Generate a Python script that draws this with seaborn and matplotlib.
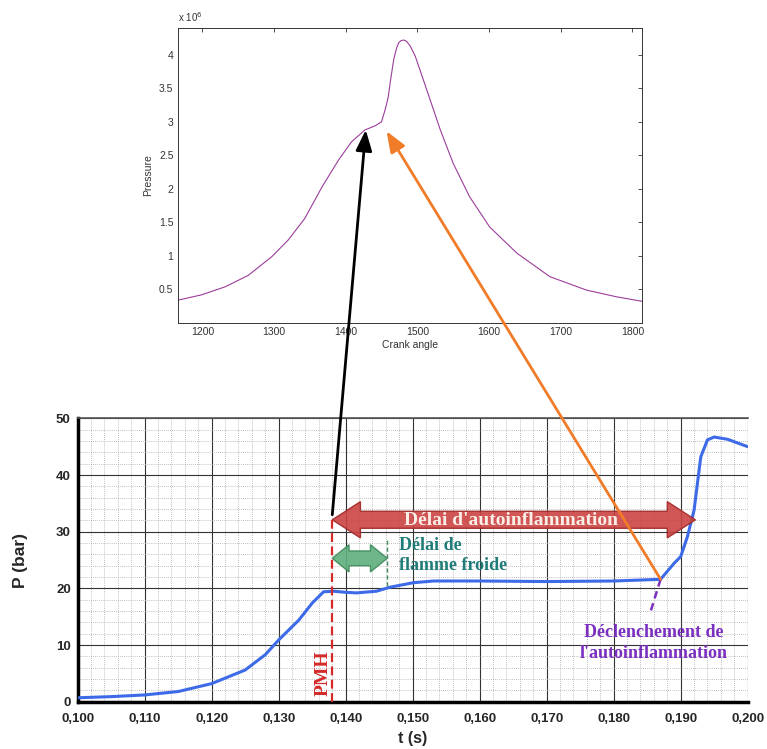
import matplotlib
matplotlib.use("Agg")
from matplotlib import pyplot as plt
from matplotlib.patches import Polygon, ConnectionPatch
from matplotlib.ticker import MultipleLocator, FuncFormatter
import numpy as np
import pandas as pd
import seaborn as sns

# top chart: pressure vs crank angle (values in 1e6)
crank_angle = [1166, 1199, 1232, 1264, 1297, 1320, 1343, 1367, 1390, 1408, 1427, 1441, 1450,
               1455, 1459, 1463, 1467, 1471, 1474, 1477, 1481, 1485, 1490, 1497, 1513, 1532,
               1550, 1573, 1601, 1639, 1685, 1736, 1778, 1815]
pressure = [0.34, 0.42, 0.54, 0.71, 0.99, 1.24, 1.56, 2.03, 2.43, 2.70, 2.88, 2.94, 3.00,
            3.18, 3.35, 3.65, 3.93, 4.10, 4.18, 4.21, 4.22, 4.20, 4.13, 3.98, 3.48, 2.88,
            2.38, 1.88, 1.43, 1.04, 0.69, 0.49, 0.39, 0.32]

# bottom chart: P (bar) vs t (s)
t_s = [0.100, 0.105, 0.110, 0.115, 0.120, 0.125, 0.128, 0.130, 0.133, 0.135, 0.1367, 0.1382,
       0.1400, 0.1416, 0.1446, 0.1466, 0.1501, 0.1531, 0.160, 0.170, 0.180, 0.1870, 0.189,
       0.190, 0.191, 0.192, 0.1925, 0.193, 0.194, 0.195, 0.197, 0.200]
p_bar = [0.7, 0.9, 1.2, 1.8, 3.2, 5.6, 8.3, 10.9, 14.4, 17.4, 19.4, 19.5,
         19.3, 19.2, 19.5, 20.2, 21.0, 21.3, 21.3, 21.2, 21.3, 21.6, 24.4,
         25.6, 29.1, 33.8, 38.5, 43.2, 46.2, 46.7, 46.3, 45.0]

t_pmh = 0.138
t_cold_end = 0.1462
t_auto_end = 0.1922
t_trigger = 0.1870
p_trigger = 21.6

top_df = pd.DataFrame({"crank": crank_angle, "pressure": pressure})
bot_df = pd.DataFrame({"t": t_s, "p": p_bar})

sns.set_style("white")
plt.rcParams["font.family"] = ["Liberation Sans", "DejaVu Sans"]

fig = plt.figure(figsize=(7.67, 7.49), dpi=100)

# ---------- top chart ----------
ax1 = fig.add_axes([0.2316, 0.5688, 0.6055, 0.3939])
sns.lineplot(data=top_df, x="crank", y="pressure", ax=ax1, color="#9b3d9b", linewidth=0.8)
ax1.set_xlim(1165.5, 1813.5)
ax1.set_ylim(0, 4.4)
ax1.xaxis.set_major_locator(MultipleLocator(100))
ax1.set_yticks([0.5, 1, 1.5, 2, 2.5, 3, 3.5, 4])
ax1.yaxis.set_major_formatter(FuncFormatter(lambda v, p: "%g" % v))
ax1.tick_params(direction="in", length=3, width=0.6, top=True, right=True,
                labelsize=7.5, colors="#333333", pad=3)
for s in ax1.spines.values():
    s.set_color("#333333")
    s.set_linewidth(0.7)
ax1.set_xlabel("Crank angle", fontsize=7.5, color="#333333", labelpad=2)
ax1.set_ylabel("Pressure", fontsize=7.5, color="#333333", labelpad=4)
ax1.text(0.0, 1.015, r"x 10$^6$", transform=ax1.transAxes, fontsize=7, color="#333333",
         ha="left", va="bottom")

# ---------- bottom chart ----------
ax2 = fig.add_axes([0.1013, 0.0631, 0.8735, 0.3784])
ax2.set_xlim(0.100, 0.200)
ax2.set_ylim(0, 50)
ax2.xaxis.set_major_locator(MultipleLocator(0.01))
ax2.xaxis.set_minor_locator(MultipleLocator(0.002))
ax2.yaxis.set_major_locator(MultipleLocator(10))
ax2.yaxis.set_minor_locator(MultipleLocator(2))
ax2.grid(which="minor", color="#aaaaaa", linestyle=(0, (1, 1.5)), linewidth=0.6)
ax2.grid(which="major", color="#333333", linestyle="-", linewidth=0.8)
ax2.set_axisbelow(True)
sns.lineplot(data=bot_df, x="t", y="p", ax=ax2, color="#3d6be8", linewidth=2.2, zorder=5)
ax2.xaxis.set_major_formatter(FuncFormatter(lambda v, p: ("%.3f" % v).replace(".", ",")))
ax2.tick_params(which="major", direction="out", length=3, width=1.2, labelsize=9.5, pad=2)
ax2.tick_params(axis="x", which="major", pad=5)
ax2.tick_params(which="minor", length=0)
ax2.spines["left"].set_linewidth(2.5)
ax2.spines["bottom"].set_linewidth(2.5)
ax2.spines["left"].set_color("black")
ax2.spines["bottom"].set_color("black")
ax2.spines["top"].set_color("#555555")
ax2.spines["top"].set_linewidth(1.2)
ax2.spines["right"].set_visible(False)
ax2.set_xlabel("t (s)", fontsize=11.5, fontweight="bold")
ax2.xaxis.set_label_coords(0.5, -0.103)
ax2.set_ylabel("P (bar)", fontsize=12.5, fontweight="bold", labelpad=20)
for lab in ax2.get_xticklabels() + ax2.get_yticklabels():
    lab.set_fontweight("bold")


def double_arrow(ax, x0, x1, yc, body, head, head_len, fc, ec):
    pts = [(x0, yc), (x0 + head_len, yc + head / 2), (x0 + head_len, yc + body / 2),
           (x1 - head_len, yc + body / 2), (x1 - head_len, yc + head / 2), (x1, yc),
           (x1 - head_len, yc - head / 2), (x1 - head_len, yc - body / 2),
           (x0 + head_len, yc - body / 2), (x0 + head_len, yc - head / 2)]
    ax.add_patch(Polygon(pts, closed=True, facecolor=fc, edgecolor=ec, linewidth=1.0,
                         alpha=0.9, zorder=6))


serif = ["Liberation Serif", "DejaVu Serif"]

# PMH line and label
ax2.plot([t_pmh, t_pmh], [0, 33], color="#d42a2a", linestyle=(0, (4, 2)), linewidth=1.6, zorder=7)
ax2.text(t_pmh - 0.0014, 1.0, "PMH", rotation=90, color="#d42a2a", fontsize=14,
         fontweight="bold", family=serif, ha="center", va="bottom", zorder=7)

# autoignition delay arrow
double_arrow(ax2, t_pmh, t_auto_end, 32.1, 3.0, 6.4, 0.0042, "#cc4444", "#a02828")
ax2.text(0.1646, 32.0, "Délai d'autoinflammation", color="#fbeee6",
         fontsize=14, fontweight="bold", family=serif, ha="center", va="center", zorder=8)

# cold flame delay arrow
double_arrow(ax2, t_pmh, t_cold_end, 25.3, 2.6, 4.8, 0.0025, "#5fb07e", "#3d8a5a")
ax2.plot([t_cold_end, t_cold_end], [20.5, 28.5], color="#3d8a5a", linestyle=(0, (3, 2)),
         linewidth=1.0, zorder=6)
ax2.text(t_cold_end + 0.0017, 25.8, "Délai de\nflamme froide", color="#1f7c78", fontsize=13,
         fontweight="bold", family=serif, ha="left", va="center", linespacing=1.3, zorder=8)

# autoignition trigger
ax2.plot([t_trigger, t_trigger - 0.0016], [p_trigger, 15.5], color="#7a2fc0",
         linestyle=(0, (3, 2)), linewidth=1.8, zorder=7)
ax2.text(t_trigger - 0.0010, 10.3, "Déclenchement de\nl'autoinflammation", color="#7a2fc0",
         fontsize=13, fontweight="bold", family=serif, ha="center", va="center",
         linespacing=1.3, zorder=8)

# arrows linking both charts
link_black = ConnectionPatch(xyA=(t_pmh, 33), coordsA=ax2.transData,
                             xyB=(1428, 2.88), coordsB=ax1.transData,
                             arrowstyle="-|>,head_length=0.9,head_width=0.35", color="black",
                             linewidth=2.0, mutation_scale=14, zorder=10)
fig.add_artist(link_black)
link_orange = ConnectionPatch(xyA=(t_trigger, p_trigger), coordsA=ax2.transData,
                              xyB=(1457, 2.86), coordsB=ax1.transData,
                              arrowstyle="-|>,head_length=0.9,head_width=0.35", color="#f07c2a",
                              linewidth=2.0, mutation_scale=14, zorder=10)
fig.add_artist(link_orange)

fig.savefig("out.png", dpi=100)
